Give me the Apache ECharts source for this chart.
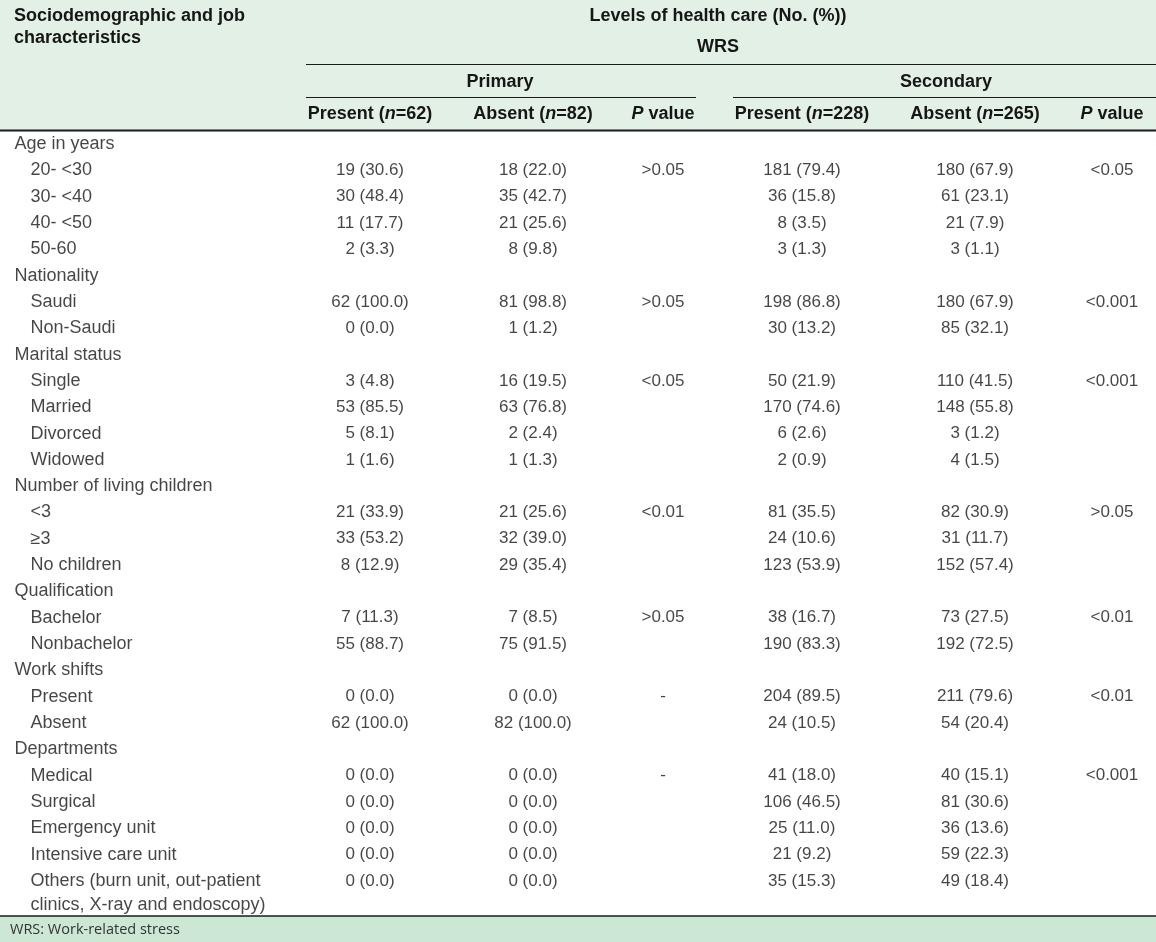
<!DOCTYPE html>
<html>
<head>
<meta charset="utf-8">
<script src="https://cdn.jsdelivr.net/npm/echarts@6/dist/echarts.min.js"></script>
<style>
html,body{margin:0;padding:0;background:#fff;}
#chart{width:1156px;height:942px;}
</style>
</head>
<body>
<div id="chart"></div>
<script>
// ---------------- DATA ----------------
const rowLabels = [
  'Age in years', '20- <30', '30- <40', '40- <50', '50-60',
  'Nationality', 'Saudi', 'Non-Saudi',
  'Marital status', 'Single', 'Married', 'Divorced', 'Widowed',
  'Number of living children', '<3', '≥3', 'No children',
  'Qualification', 'Bachelor', 'Nonbachelor',
  'Work shifts', 'Present', 'Absent',
  'Departments', 'Medical', 'Surgical', 'Emergency unit', 'Intensive care unit',
  'Others (burn unit, out-patient\nclinics, X-ray and endoscopy)'
];
const headingLabels = ['Age in years', 'Nationality', 'Marital status',
  'Number of living children', 'Qualification', 'Work shifts', 'Departments'];

const primaryPresentN   = [19, 30, 11, 2, 62, 0, 3, 53, 5, 1, 21, 33, 8, 7, 55, 0, 62, 0, 0, 0, 0, 0];
const primaryPresentPct = [30.6, 48.4, 17.7, 3.3, 100.0, 0.0, 4.8, 85.5, 8.1, 1.6, 33.9, 53.2, 12.9, 11.3, 88.7, 0.0, 100.0, 0.0, 0.0, 0.0, 0.0, 0.0];
const primaryAbsentN    = [18, 35, 21, 8, 81, 1, 16, 63, 2, 1, 21, 32, 29, 7, 75, 0, 82, 0, 0, 0, 0, 0];
const primaryAbsentPct  = [22.0, 42.7, 25.6, 9.8, 98.8, 1.2, 19.5, 76.8, 2.4, 1.3, 25.6, 39.0, 35.4, 8.5, 91.5, 0.0, 100.0, 0.0, 0.0, 0.0, 0.0, 0.0];
const secondaryPresentN   = [181, 36, 8, 3, 198, 30, 50, 170, 6, 2, 81, 24, 123, 38, 190, 204, 24, 41, 106, 25, 21, 35];
const secondaryPresentPct = [79.4, 15.8, 3.5, 1.3, 86.8, 13.2, 21.9, 74.6, 2.6, 0.9, 35.5, 10.6, 53.9, 16.7, 83.3, 89.5, 10.5, 18.0, 46.5, 11.0, 9.2, 15.3];
const secondaryAbsentN    = [180, 61, 21, 3, 180, 85, 110, 148, 3, 4, 82, 31, 152, 73, 192, 211, 54, 40, 81, 36, 59, 49];
const secondaryAbsentPct  = [67.9, 23.1, 7.9, 1.1, 67.9, 32.1, 41.5, 55.8, 1.2, 1.5, 30.9, 11.7, 57.4, 27.5, 72.5, 79.6, 20.4, 15.1, 30.6, 13.6, 22.3, 18.4];

const primaryP   = ['>0.05', '>0.05', '<0.05', '<0.01', '>0.05', '-', '-'];
const secondaryP = ['<0.05', '<0.001', '<0.001', '>0.05', '<0.01', '<0.01', '<0.001'];

const headerTitle = 'Levels of health care (No. (%))';
const headerSub = 'WRS';
const groupHeaders = ['Primary', 'Secondary'];
const footnote = 'WRS: Work-related stress';

// ---------------- LAYOUT ----------------
const W = 1156, H = 942;
const FONT = '"Liberation Sans", Arial, sans-serif';
const FS = 17;      // value cells
const FS_LAB = 18;  // first column
const FS_HDR = 18;  // header
const TXT = '#161616';
const colX = { pPres: 370, pAbs: 533, pP: 663, sPres: 802, sAbs: 975, sP: 1112 };
const headingX = 14, itemX = 30;

// row indices
const itemRows = [];
const groupFirstItemRow = [];
rowLabels.forEach((l, i) => {
  if (!headingLabels.includes(l)) {
    if (headingLabels.includes(rowLabels[i - 1])) groupFirstItemRow.push(i);
    itemRows.push(i);
  }
});

const fmt = (n, p) => n + ' (' + p.toFixed(1) + ')';
const colData = (x, ns, ps) => itemRows.map((r, k) => ({ name: fmt(ns[k], ps[k]), value: [x, r] }));
const pData = (x, arr) => groupFirstItemRow.map((r, k) => ({ name: arr[k], value: [x, r] }));

const labelData = rowLabels.map((l, i) => {
  const isHead = headingLabels.includes(l);
  const d = { name: l, value: [isHead ? headingX : itemX, i] };
  if (l.indexOf('\n') >= 0) d.label = { lineHeight: 24, offset: [0, 12] };
  return d;
});

const baseScatter = {
  type: 'scatter', symbolSize: 1, silent: true,
  itemStyle: { color: 'rgba(0,0,0,0)' },
  label: { show: true, formatter: '{b}', color: TXT, fontSize: FS, fontFamily: FONT }
};
function centerSeries(data) {
  return Object.assign({}, baseScatter, {
    data, label: Object.assign({}, baseScatter.label, { position: 'inside', align: 'center' })
  });
}

const hdrStyle = { fontFamily: FONT, fontSize: FS_HDR, fontWeight: 'bold', fill: TXT };
function hText(x, y, text, align, rich) {
  const st = Object.assign({}, hdrStyle, { x, y, text, align: align || 'center', verticalAlign: 'middle' });
  if (rich) st.rich = rich;
  return { type: 'text', z: 10, style: st };
}
const richN = {
  b: { fontFamily: FONT, fontSize: FS_HDR, fontWeight: 'bold', fill: TXT },
  i: { fontFamily: FONT, fontSize: FS_HDR, fontWeight: 'bold', fontStyle: 'italic', fill: TXT }
};
const nHead = (w, n) => '{b|' + w + ' (}{i|n}{b|=' + n + ')}';
const pHead = '{i|P}{b| value}';

function hLine(x1, x2, y, w) {
  return { type: 'line', z: 5, shape: { x1, y1: y, x2, y2: y }, style: { stroke: '#1a1a1a', lineWidth: w } };
}

const chart = echarts.init(document.getElementById('chart'), null, { renderer: 'canvas' });
chart.setOption({
  animation: false,
  backgroundColor: '#ffffff',
  grid: { left: 0, right: 0, top: 131, bottom: 48 },
  xAxis: { type: 'value', min: 0, max: W, show: false },
  yAxis: { type: 'category', data: rowLabels.map((_, i) => i), inverse: true, show: false },
  graphic: [
    { type: 'rect', z: -1, shape: { x: 0, y: 0, width: W, height: 130 }, style: { fill: '#e3f0e6' } },
    { type: 'rect', z: -1, shape: { x: 0, y: 916, width: W, height: 26 }, style: { fill: '#cde7d5' } },
    hLine(306, W, 64.5, 1.2),
    hLine(306, 696, 97.5, 1.2),
    hLine(733, W, 97.5, 1.2),
    hLine(0, W, 130.5, 2),
    hLine(0, W, 916, 1.5),
    hText(14, 16, 'Sociodemographic and job', 'left'),
    hText(14, 38, 'characteristics', 'left'),
    hText(718, 16, headerTitle),
    hText(718, 47, headerSub),
    hText(500, 82, groupHeaders[0]),
    hText(946, 82, groupHeaders[1]),
    hText(colX.pPres, 114, nHead('Present', 62), 'center', richN),
    hText(colX.pAbs, 114, nHead('Absent', 82), 'center', richN),
    hText(colX.pP, 114, pHead, 'center', richN),
    hText(colX.sPres, 114, nHead('Present', 228), 'center', richN),
    hText(colX.sAbs, 114, nHead('Absent', 265), 'center', richN),
    hText(colX.sP, 114, pHead, 'center', richN),
    { type: 'text', z: 10, style: { x: 10, y: 930, text: footnote, align: 'left', verticalAlign: 'middle',
      fontFamily: '"Open Sans", "Noto Sans", sans-serif', fontSize: 14.5, fill: '#333' } }
  ],
  series: [
    Object.assign({}, baseScatter, {
      data: labelData,
      label: Object.assign({}, baseScatter.label, { position: 'right', distance: 0, align: 'left', fontSize: FS_LAB })
    }),
    centerSeries(colData(colX.pPres, primaryPresentN, primaryPresentPct)),
    centerSeries(colData(colX.pAbs, primaryAbsentN, primaryAbsentPct)),
    centerSeries(pData(colX.pP, primaryP)),
    centerSeries(colData(colX.sPres, secondaryPresentN, secondaryPresentPct)),
    centerSeries(colData(colX.sAbs, secondaryAbsentN, secondaryAbsentPct)),
    centerSeries(pData(colX.sP, secondaryP))
  ]
});
</script>
</body>
</html>
